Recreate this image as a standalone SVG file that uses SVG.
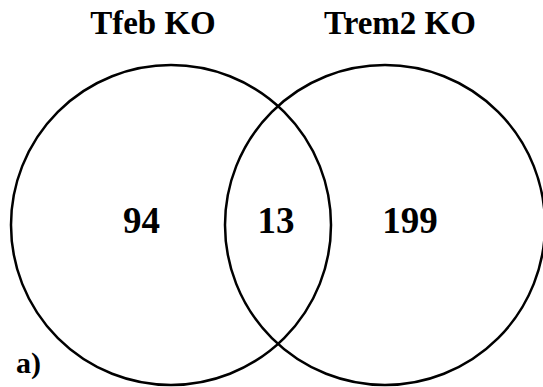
<svg xmlns="http://www.w3.org/2000/svg" width="543" height="387" viewBox="0 0 543 387">
<style>
.set{fill:none;stroke:#000;stroke-width:2.5}
.t{font-family:"Liberation Serif","Times New Roman",serif;font-weight:bold;fill:#000;text-anchor:middle}
.title{font-size:33px}
.num{font-size:37px}
</style>
<rect width="543" height="387" fill="#fff"/>
<g id="tfeb">
<circle class="set" cx="171" cy="225" r="160"/>
<text class="t title" x="153" y="34">Tfeb KO</text>
<text class="t num" x="141.5" y="233">94</text>
</g>
<g id="trem2">
<circle class="set" cx="385" cy="225" r="160"/>
<text class="t title" x="400" y="34">Trem2 KO</text>
<text class="t num" x="410" y="233">199</text>
</g>
<g id="overlap">
<text class="t num" x="276" y="233">13</text>
</g>
<g id="connectors"/>
<text class="t" style="font-size:30px;text-anchor:start" x="16" y="373">a)</text>
</svg>
